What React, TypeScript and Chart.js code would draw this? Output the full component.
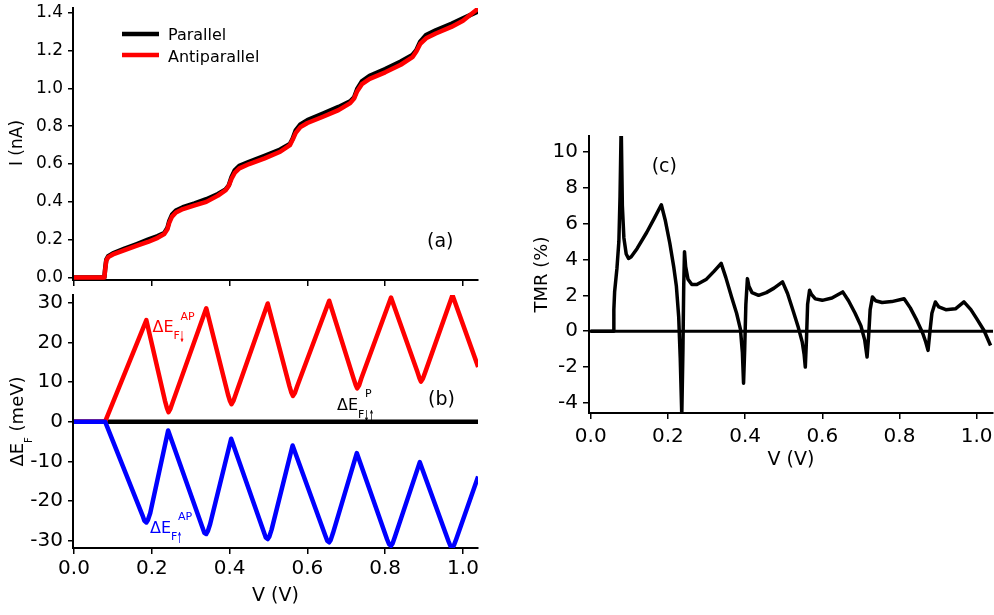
import { useEffect, useRef } from "react";
import { Chart, registerables } from "chart.js";

Chart.register(...registerables);

// ---------- (a) current through the junction ----------
const V_IV = [
  0, 0.078, 0.08, 0.083, 0.088, 0.1, 0.13, 0.16, 0.19, 0.215,
  0.232, 0.24, 0.245, 0.252, 0.262, 0.28, 0.31, 0.34, 0.37, 0.39,
  0.398, 0.405, 0.413, 0.425, 0.45, 0.49, 0.53, 0.555, 0.562, 0.57,
  0.582, 0.6, 0.64, 0.68, 0.71, 0.72, 0.728, 0.74, 0.76, 0.8,
  0.84, 0.87, 0.88, 0.89, 0.905, 0.93, 0.97, 1.0, 1.039,
];
const I_PARALLEL = [
  0, 0, 0.045, 0.095, 0.113, 0.128, 0.153, 0.176, 0.2, 0.219,
  0.236, 0.262, 0.3, 0.333, 0.354, 0.372, 0.392, 0.414, 0.442, 0.466,
  0.488, 0.532, 0.566, 0.59, 0.612, 0.644, 0.677, 0.706, 0.734, 0.778,
  0.81, 0.832, 0.867, 0.902, 0.932, 0.952, 0.997, 1.037, 1.067, 1.102,
  1.142, 1.177, 1.202, 1.247, 1.282, 1.307, 1.342, 1.37, 1.407,
];
const I_ANTIPARALLEL = [
  0, 0, 0.04, 0.09, 0.108, 0.122, 0.145, 0.167, 0.188, 0.21,
  0.23, 0.255, 0.29, 0.322, 0.344, 0.362, 0.381, 0.4, 0.433, 0.462,
  0.485, 0.522, 0.553, 0.577, 0.6, 0.63, 0.665, 0.7, 0.728, 0.765,
  0.795, 0.817, 0.85, 0.885, 0.922, 0.946, 0.985, 1.022, 1.05, 1.085,
  1.125, 1.165, 1.195, 1.235, 1.265, 1.29, 1.325, 1.358, 1.422,
];

// ---------- (b) Fermi-level shifts (meV) ----------
const V_AP_DOWN = [
  0, 0.08, 0.186, 0.234, 0.239, 0.243, 0.248, 0.254, 0.34, 0.396,
  0.401, 0.405, 0.41, 0.416, 0.498, 0.554, 0.559, 0.563, 0.568, 0.574,
  0.656, 0.719, 0.724, 0.728, 0.733, 0.739, 0.815, 0.883, 0.888, 0.892,
  0.897, 0.903, 0.973, 1.039,
];
const DE_AP_DOWN = [
  0, 0, 25.6, 5.2, 3.4, 2.4, 3.3, 5.0, 28.6, 6.8,
  5.2, 4.4, 5.3, 7.0, 29.8, 8.9, 7.3, 6.5, 7.3, 9.0,
  30.5, 10.8, 9.3, 8.4, 9.2, 11.0, 31.3, 12.5, 11.0, 10.1,
  10.9, 12.5, 31.9, 13.8,
];
const V_AP_UP = [
  0, 0.08, 0.176, 0.181, 0.186, 0.19, 0.196, 0.242, 0.33, 0.335,
  0.34, 0.344, 0.35, 0.404, 0.488, 0.493, 0.498, 0.502, 0.508, 0.562,
  0.646, 0.651, 0.656, 0.66, 0.666, 0.727, 0.805, 0.81, 0.815, 0.819,
  0.825, 0.889, 0.963, 0.968, 0.973, 0.977, 0.983, 1.039,
];
const DE_AP_UP = [
  0, 0, -23.6, -25.0, -25.4, -24.8, -23.0, -2.2, -26.6, -28.0,
  -28.3, -27.6, -25.8, -4.3, -27.8, -29.2, -29.6, -29.0, -27.2, -6.0,
  -28.7, -30.0, -30.4, -29.8, -28.0, -7.9, -29.7, -30.9, -31.3, -30.7,
  -29.0, -10.2, -30.2, -31.4, -31.7, -31.1, -29.5, -13.8,
];
const V_P = [0, 1.039];
const DE_P = [0, 0];

// ---------- (c) tunnel magnetoresistance (%) ----------
const V_TMR = [
  0, 0.058, 0.06, 0.062, 0.068, 0.073, 0.076, 0.079, 0.082, 0.086,
  0.092, 0.098, 0.105, 0.12, 0.145, 0.165, 0.183, 0.193, 0.205, 0.215,
  0.222, 0.228, 0.232, 0.236, 0.239, 0.241, 0.243, 0.246, 0.252, 0.262,
  0.275, 0.3, 0.32, 0.338, 0.35, 0.365, 0.378, 0.388, 0.393, 0.396,
  0.399, 0.402, 0.406, 0.41, 0.418, 0.435, 0.455, 0.475, 0.497, 0.51,
  0.525, 0.538, 0.548, 0.553, 0.556, 0.559, 0.562, 0.567, 0.572, 0.582,
  0.6, 0.625, 0.653, 0.668, 0.685, 0.7, 0.71, 0.716, 0.72, 0.724,
  0.73, 0.738, 0.755, 0.78, 0.812, 0.828, 0.845, 0.86, 0.868, 0.874,
  0.879, 0.884, 0.893, 0.902, 0.92, 0.945, 0.967, 0.985, 1.0, 1.019,
  1.036,
];
const TMR_PCT = [
  0, 0, 1.2, 2.2, 3.5, 5.0, 7.5, 11.5, 7.0, 5.2,
  4.3, 4.05, 4.15, 4.6, 5.5, 6.3, 7.05, 6.2, 4.9, 3.6,
  2.5, 0.8, -1.5, -4.7, -1.0, 2.5, 4.43, 3.6, 2.9, 2.6,
  2.6, 2.9, 3.35, 3.78, 3.0, 1.9, 1.0, 0.1, -1.2, -2.9,
  -1.0, 1.5, 2.93, 2.5, 2.15, 2.0, 2.15, 2.4, 2.75, 2.1,
  1.1, 0.2, -0.6, -1.3, -2.0, -0.5, 1.5, 2.28, 2.05, 1.8,
  1.72, 1.85, 2.19, 1.7, 1.0, 0.3, -0.5, -1.44, -0.3, 1.2,
  1.91, 1.7, 1.6, 1.65, 1.81, 1.3, 0.6, -0.1, -0.6, -1.07,
  0.0, 1.0, 1.63, 1.35, 1.2, 1.25, 1.63, 1.2, 0.7, 0.04,
  -0.8,
];

// ---------- ticks ----------
const V_TICKS = [0, 0.2, 0.4, 0.6, 0.8, 1.0];
const I_TICKS = [0, 0.2, 0.4, 0.6, 0.8, 1.0, 1.2, 1.4];
const DE_TICKS = [-30, -20, -10, 0, 10, 20, 30];
const TMR_TICKS = [-4, -2, 0, 2, 4, 6, 8, 10];

// ---------- axis ranges ----------
const V_RANGE_AB = [-0.0026, 1.0386];
const I_RANGE = [-0.013, 1.425];
const DE_RANGE = [-31.84, 31.94];
const V_RANGE_C = [-0.0044, 1.0423];
const TMR_RANGE = [-4.56, 10.88];

const FAMILY = '"DejaVu Sans", "Liberation Sans", sans-serif';
const font = (size: number) => `${size}px ${FAMILY}`;

const pts = (xs: number[], ys: number[]) => xs.map((x, i) => ({ x, y: ys[i] }));

function axis(o: any) {
  return {
    type: "linear",
    position: o.position,
    min: o.range[0],
    max: o.range[1],
    afterBuildTicks: (s: any) => {
      s.ticks = o.ticks.map((value: number) => ({ value }));
    },
    afterFit: (s: any) => {
      if (o.position === "left") s.width = o.size;
      else s.height = o.size;
      s.paddingLeft = 0;
      s.paddingRight = 0;
      s.paddingTop = 0;
      s.paddingBottom = 0;
    },
    grid: {
      display: true,
      drawOnChartArea: false,
      drawTicks: true,
      tickLength: o.tickLength,
      tickWidth: 1.5,
      tickColor: "#000",
      color: "#000",
      lineWidth: 1.5,
    },
    border: { display: true, color: "#000", width: 2 },
    ticks: {
      display: true,
      // the shared-axis panel keeps its tick marks but hides the numbers
      color: o.labels === false ? "rgba(0,0,0,0)" : "#000",
      padding: o.padding ?? 4,
      font: { family: FAMILY, size: o.fontSize ?? 17 },
      autoSkip: false,
      maxRotation: 0,
      minRotation: 0,
      callback: (v: any) => o.fmt(Number(v)),
    },
  };
}

function lineSet(label: string, data: any[], color: string, width: number, order: number) {
  return {
    label,
    data,
    borderColor: color,
    backgroundColor: color,
    borderWidth: width,
    pointRadius: 0,
    tension: 0,
    fill: false,
    order,
    borderJoinStyle: "round",
    borderCapStyle: "butt",
  };
}

function baseOptions(padding: any, scales: any) {
  return {
    responsive: false,
    maintainAspectRatio: false,
    animation: false,
    events: [],
    layout: { padding, autoPadding: false },
    plugins: { legend: { display: false }, tooltip: { enabled: false }, title: { display: false } },
    scales,
  };
}

function drawText(ctx: any, s: string, x: number, y: number, size: number, color = "#000", align = "left", baseline = "alphabetic") {
  ctx.save();
  ctx.font = font(size);
  ctx.fillStyle = color;
  ctx.textAlign = align;
  ctx.textBaseline = baseline;
  ctx.fillText(s, x, y);
  ctx.restore();
}

function drawVerticalText(ctx: any, s: string, x: number, y: number, size: number) {
  ctx.save();
  ctx.translate(x, y);
  ctx.rotate(-Math.PI / 2);
  drawText(ctx, s, 0, 0, size, "#000", "center", "middle");
  ctx.restore();
}

// ΔE_F label with spin arrows in the subscript and a superscript
function spinLabel(ctx: any, x: number, y: number, arrows: string[], sup: string, color: string, subDy: number, supDy: number) {
  ctx.save();
  ctx.fillStyle = color;
  ctx.textAlign = "left";
  ctx.textBaseline = "alphabetic";
  ctx.font = font(16);
  ctx.fillText("ΔE", x, y);
  const x1 = x + ctx.measureText("ΔE").width;
  ctx.font = font(11);
  ctx.fillText("F", x1, y + subDy);
  const x2 = x1 + ctx.measureText("F").width;
  ctx.fillText(sup, x2 + 0.5, y + supDy);
  ctx.font = `bold 15px ${FAMILY}`;
  arrows.forEach((a, i) => {
    ctx.save();
    ctx.translate(x2 - 0.5 + i * 5, y + subDy + 3);
    ctx.scale(0.4, 1);
    ctx.fillText(a, 0, 0);
    ctx.restore();
  });
  ctx.restore();
}

function buildIV() {
  const annotate = {
    id: "ivAnnotations",
    afterDraw(chart: any) {
      const { ctx, chartArea } = chart;
      // legend
      ctx.save();
      ctx.lineWidth = 4.5;
      ctx.strokeStyle = "#000";
      ctx.beginPath();
      ctx.moveTo(122, 34);
      ctx.lineTo(159, 34);
      ctx.stroke();
      ctx.strokeStyle = "#ff0000";
      ctx.beginPath();
      ctx.moveTo(122, 55);
      ctx.lineTo(159, 55);
      ctx.stroke();
      ctx.restore();
      drawText(ctx, "Parallel", 168, 40, 16);
      drawText(ctx, "Antiparallel", 168, 61.5, 16);
      drawText(ctx, "(a)", 427, 246.5, 19);
      drawVerticalText(ctx, "I (nA)", 17.5, (chartArea.top + chartArea.bottom) / 2 - 1, 17);
    },
  };
  return {
    type: "line",
    data: {
      datasets: [
        lineSet("Parallel", pts(V_IV, I_PARALLEL), "#000000", 4.5, 1),
        lineSet("Antiparallel", pts(V_IV, I_ANTIPARALLEL), "#ff0000", 4.5, 0),
      ],
    },
    options: baseOptions(
      { left: 0, top: 8, right: 12, bottom: 0 },
      {
        x: axis({ position: "bottom", range: V_RANGE_AB, ticks: V_TICKS, size: 12, tickLength: 6, labels: false, fmt: (v: number) => v.toFixed(1) }),
        y: axis({ position: "left", range: I_RANGE, ticks: I_TICKS, size: 73, tickLength: 5, padding: 5, fontSize: 17, fmt: (v: number) => v.toFixed(1) }),
      }
    ),
    plugins: [annotate],
  };
}

function buildShift() {
  const annotate = {
    id: "shiftAnnotations",
    afterDraw(chart: any) {
      const { ctx, chartArea } = chart;
      spinLabel(ctx, 152.5, 42, ["↓"], "AP", "#ff0000", 7, -12.5);
      spinLabel(ctx, 150, 243, ["↑"], "AP", "#0000ff", 6.5, -13);
      spinLabel(ctx, 337, 120, ["↓", "↑"], "P", "#000000", 8, -13.5);
      drawText(ctx, "(b)", 428, 115, 19);
      drawText(ctx, "V (V)", (chartArea.left + chartArea.right) / 2, 311, 19, "#000", "center");
      // rotated ΔE_F (meV) title with subscript
      ctx.save();
      ctx.translate(23, (chartArea.top + chartArea.bottom) / 2);
      ctx.rotate(-Math.PI / 2);
      ctx.fillStyle = "#000";
      ctx.textBaseline = "alphabetic";
      ctx.textAlign = "left";
      ctx.font = font(18);
      const wA = ctx.measureText("ΔE").width;
      const wC = ctx.measureText(" (meV)").width;
      ctx.font = font(10);
      const wB = ctx.measureText("F").width;
      let x0 = -(wA + wB + wC) / 2;
      ctx.font = font(18);
      ctx.fillText("ΔE", x0, 0);
      x0 += wA;
      ctx.font = font(10);
      ctx.fillText("F", x0, 8.5);
      x0 += wB;
      ctx.font = font(18);
      ctx.fillText(" (meV)", x0, 0);
      ctx.restore();
    },
  };
  return {
    type: "line",
    data: {
      datasets: [
        lineSet("ΔE_F P", pts(V_P, DE_P), "#000000", 4.5, 2),
        lineSet("ΔE_F↓ AP", pts(V_AP_DOWN, DE_AP_DOWN), "#ff0000", 4.5, 1),
        lineSet("ΔE_F↑ AP", pts(V_AP_UP, DE_AP_UP), "#0000ff", 4.5, 0),
      ],
    },
    options: baseOptions(
      { left: 0, top: 5, right: 12, bottom: 0 },
      {
        x: axis({ position: "bottom", range: V_RANGE_AB, ticks: V_TICKS, size: 67, tickLength: 6, padding: 3, fontSize: 20, fmt: (v: number) => v.toFixed(1) }),
        y: axis({ position: "left", range: DE_RANGE, ticks: DE_TICKS, size: 73, tickLength: 5, padding: 5, fontSize: 20, fmt: (v: number) => String(Math.round(v)) }),
      }
    ),
    plugins: [annotate],
  };
}

function buildTMR() {
  const annotate = {
    id: "tmrAnnotations",
    afterDraw(chart: any) {
      const { ctx, chartArea } = chart;
      drawText(ctx, "(c)", 151.7, 51.5, 19);
      drawText(ctx, "V (V)", (chartArea.left + chartArea.right) / 2, 345, 19, "#000", "center");
      drawVerticalText(ctx, "TMR (%)", 42.5, (chartArea.top + chartArea.bottom) / 2, 18);
    },
  };
  return {
    type: "line",
    data: {
      datasets: [
        lineSet("zero", pts(V_RANGE_C, [0, 0]), "#000000", 3, 1),
        lineSet("TMR", pts(V_TMR, TMR_PCT), "#000000", 3.5, 0),
      ],
    },
    options: baseOptions(
      { left: 0, top: 16, right: 1, bottom: 0 },
      {
        x: axis({ position: "bottom", range: V_RANGE_C, ticks: V_TICKS, size: 67, tickLength: 6, padding: 6, fontSize: 20, fmt: (v: number) => v.toFixed(1) }),
        y: axis({ position: "left", range: TMR_RANGE, ticks: TMR_TICKS, size: 89, tickLength: 6, padding: 5, fontSize: 20, fmt: (v: number) => String(Math.round(v)) }),
      }
    ),
    plugins: [annotate],
  };
}

function Panel({ left, top, width, height, build }: any) {
  const ref = useRef<HTMLCanvasElement>(null);
  useEffect(() => {
    const chart = new Chart(ref.current as HTMLCanvasElement, build());
    return () => chart.destroy();
  }, [build]);
  return (
    <canvas
      ref={ref}
      width={width}
      height={height}
      style={{ position: "absolute", left, top, width, height, display: "block" }}
    />
  );
}

export default function App() {
  return (
    <div style={{ position: "fixed", left: 0, top: 0, width: 994, height: 615, background: "#ffffff", overflow: "hidden" }}>
      <Panel left={0} top={0} width={490} height={292} build={buildIV} />
      <Panel left={0} top={290} width={490} height={325} build={buildShift} />
      <Panel left={500} top={120} width={494} height={360} build={buildTMR} />
    </div>
  );
}
